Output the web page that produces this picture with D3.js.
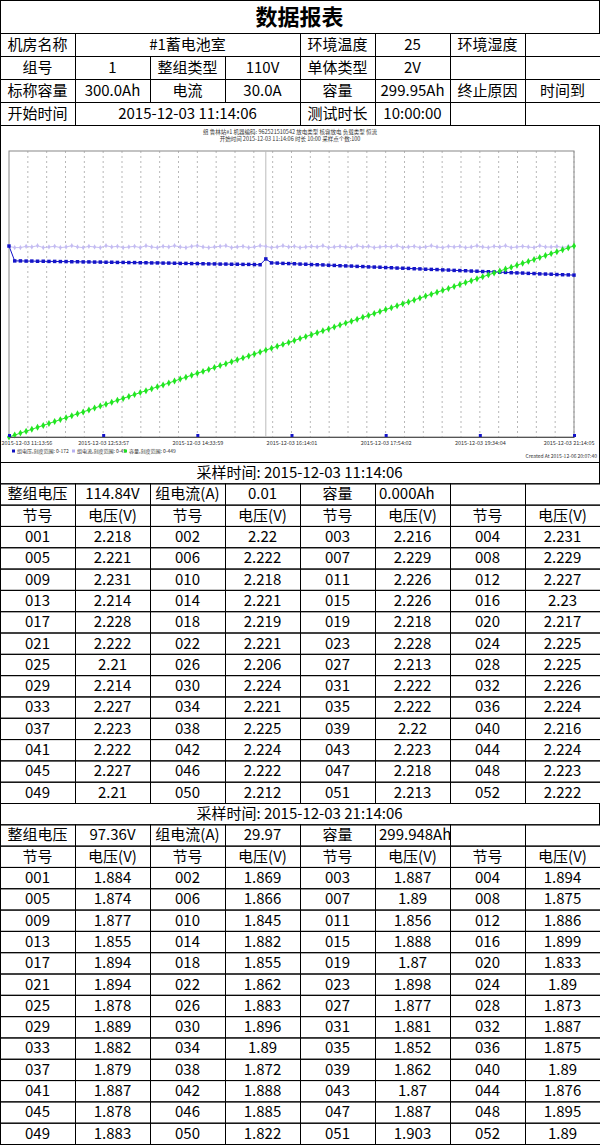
<!DOCTYPE html>
<meta charset="utf-8">
<script src="https://d3js.org/d3.v7.min.js"></script>
<style>
body{margin:0;background:#fff;}
text{font-family:"Noto Sans CJK SC","Noto Sans",sans-serif;}
</style>
<div id="vis"></div>
<script>
// header table
var infoRows = [
  [["机房名称",1],["#1蓄电池室",3],["环境温度",1],["25",1],["环境湿度",1],["",1]],
  [["组号",1],["1",1],["整组类型",1],["110V",1],["单体类型",1],["2V",1],["",1],["",1]],
  [["标称容量",1],["300.0Ah",1],["电流",1],["30.0A",1],["容量",1],["299.95Ah",1],["终止原因",1],["时间到",1]],
  [["开始时间",1],["2015-12-03 11:14:06",3],["测试时长",1],["10:00:00",1],["",1],["",1]]
];

// chart series (100 samples)
var voltage = [114.84,
  105.9,105.9,105.8,105.8,105.7,105.7,105.6,105.6,105.5,105.5,
  105.4,105.4,105.3,105.3,105.2,105.2,105.1,105.1,105.0,105.0,
  104.9,104.9,104.8,104.8,104.7,104.7,104.6,104.6,104.5,104.4,
  104.4,104.3,104.3,104.2,104.1,104.1,104.0,104.0,103.9,103.9,
  103.8,103.8,103.7,103.6,
  107.1,
  104.7,104.6,104.4,104.3,104.2,104.0,103.9,103.7,103.6,103.5,
  103.3,103.2,103.0,102.9,102.8,102.6,102.5,102.3,102.2,102.1,
  101.9,101.8,101.6,101.5,101.4,101.2,101.1,100.9,100.8,100.7,
  100.5,100.4,100.2,100.1,100.0,99.8,99.7,99.5,99.4,99.3,
  99.1,99.0,98.8,98.7,98.6,98.4,98.3,98.1,98.0,97.9,
  97.7,97.6,97.5,97.36];
var current = [30.0,29.8,29.8,30.0,29.9,30.1,29.8,29.9,30.0,29.8,
  29.9,30.1,29.9,29.8,30.0,29.9,29.8,30.1,29.9,30.0,
  29.8,29.9,30.0,29.8,30.1,29.9,29.8,30.0,29.9,30.1,
  29.9,29.8,30.0,30.1,29.9,29.8,29.9,30.0,30.1,29.8,
  29.9,30.0,29.8,29.9,30.1,30.0,29.8,29.9,30.1,29.9,
  30.0,29.8,29.9,30.0,29.9,30.1,29.8,29.9,30.0,29.9,
  29.8,30.1,29.9,30.0,29.8,29.9,30.0,29.9,30.1,29.8,
  29.9,30.0,29.8,29.9,30.1,29.9,29.8,30.0,29.9,30.0,
  29.8,29.9,30.1,29.9,29.8,30.0,29.9,30.1,29.8,29.9,
  30.0,29.9,29.8,30.1,29.9,29.9,30.0,29.8,30.0,30.0];
var capacity = [0,3.0,6.1,9.1,12.1,15.2,18.2,21.2,24.2,27.3,
  30.3,33.3,36.4,39.4,42.4,45.5,48.5,51.5,54.5,57.6,
  60.6,63.6,66.7,69.7,72.7,75.8,78.8,81.8,84.8,87.9,
  90.9,93.9,97.0,100.0,103.0,106.1,109.1,112.1,115.1,118.2,
  121.2,124.2,127.3,130.3,133.3,136.4,139.4,142.4,145.4,148.5,
  151.5,154.5,157.6,160.6,163.6,166.7,169.7,172.7,175.7,178.8,
  181.8,184.8,187.9,190.9,193.9,197.0,200.0,203.0,206.0,209.1,
  212.1,215.1,218.2,221.2,224.2,227.3,230.3,233.3,236.3,239.4,
  242.4,245.4,248.5,251.5,254.5,257.6,260.6,263.6,266.6,269.7,
  272.7,275.7,278.8,281.8,284.8,287.9,290.9,293.9,296.9,299.95];
var timeLabels = ["2015-12-03 11:13:56","2015-12-03 12:53:57","2015-12-03 14:33:59","2015-12-03 16:14:01","2015-12-03 17:54:02","2015-12-03 19:34:04","2015-12-03 21:14:05"];
var legendItems = [["组电压,刻度范围: 0-172","#1010c0"],["组电流,刻度范围: 0-45","#b8b0f0"],["容量,刻度范围: 0-449","#20e020"]];

// cell voltage samples
var sample1 = {time:"采样时间: 2015-12-03 11:14:06", sum:["整组电压","114.84V","组电流(A)","0.01","容量","0.000Ah","",""],
  v:["2.218","2.22","2.216","2.231","2.221","2.222","2.229","2.229","2.231","2.218","2.226","2.227","2.214","2.221","2.226","2.23",
     "2.228","2.219","2.218","2.217","2.222","2.221","2.228","2.225","2.21","2.206","2.213","2.225","2.214","2.224","2.222","2.226",
     "2.227","2.221","2.222","2.224","2.223","2.225","2.22","2.216","2.222","2.224","2.223","2.224","2.227","2.222","2.218","2.223",
     "2.21","2.212","2.213","2.222"]};
var sample2 = {time:"采样时间: 2015-12-03 21:14:06", sum:["整组电压","97.36V","组电流(A)","29.97","容量","299.948Ah","",""],
  v:["1.884","1.869","1.887","1.894","1.874","1.866","1.89","1.875","1.877","1.845","1.856","1.886","1.855","1.882","1.888","1.899",
     "1.894","1.855","1.87","1.833","1.894","1.862","1.898","1.89","1.878","1.883","1.877","1.873","1.889","1.896","1.881","1.887",
     "1.882","1.89","1.852","1.875","1.879","1.872","1.862","1.89","1.887","1.888","1.87","1.876","1.878","1.885","1.887","1.895",
     "1.883","1.822","1.903","1.89"]};
var headCols = ["节号","电压(V)"];

var W = 600, H = 1145, cw = 75;
var svg = d3.select("#vis").append("svg").attr("width", W).attr("height", H);

function cell(x, y, w, h, t, opts) {
  opts = opts || {};
  svg.append("rect").attr("x", x+0.5).attr("y", y+0.5).attr("width", w).attr("height", h)
    .attr("fill", "none").attr("stroke", "#000").attr("stroke-width", 1);
  if (t !== "") svg.append("text").attr("x", opts.left ? x+4 : x+w/2).attr("y", y+h/2 + (opts.shift || 0))
    .attr("dy", "0.36em").attr("text-anchor", opts.left ? "start" : "middle")
    .attr("font-size", opts.size || 15).attr("font-weight", opts.bold ? "bold" : null).text(t);
}

// title
cell(0, 0, W-1, 33, "数据报表", {size:22, bold:true, shift:1});
infoRows.forEach(function(row, r) {
  var x = 0;
  row.forEach(function(c) { cell(x, 33+r*23, c[1]*cw, 23, c[0]); x += c[1]*cw; });
});

// chart
var cy0 = 125, cy1 = 462;
svg.append("rect").attr("x", 0.5).attr("y", cy0+0.5).attr("width", W-1).attr("height", cy1-cy0).attr("fill", "#fff").attr("stroke", "#000");
svg.append("text").attr("x", 290).attr("y", 134).attr("text-anchor", "middle").attr("font-size", 5.5).attr("fill", "#333")
  .text("组 鲁林站#1 机器编码: 962521510542 放电类型 核容放电 负载类型 恒流");
svg.append("text").attr("x", 290).attr("y", 141).attr("text-anchor", "middle").attr("font-size", 5.5).attr("fill", "#333")
  .text("开始时间 2015-12-03 11:14:06 时长 10:00 采样点个数:100");

var px0 = 9, px1 = 574, py0 = 151, py1 = 437;
var x = d3.scaleLinear().domain([0, 99]).range([px0, px1]);
var yV = d3.scaleLinear().domain([0, 172]).range([py1, py0]);
var yI = d3.scaleLinear().domain([0, 45]).range([py1, py0]);
var yC = d3.scaleLinear().domain([0, 449]).range([py1, py0]);

svg.append("rect").attr("x", px0).attr("y", py0).attr("width", px1-px0).attr("height", py1-py0)
  .attr("fill", "none").attr("stroke", "#888");
var g = svg.append("g");
g.selectAll(".grid").data(d3.range(1, 31)).join("line")
  .attr("x1", function(i){ return x(i*99/30); }).attr("x2", function(i){ return x(i*99/30); })
  .attr("y1", py0).attr("y2", py1).attr("stroke", "#999").attr("stroke-dasharray", "2,3").attr("stroke-width", 0.7);
g.append("line").attr("x1", x(45)).attr("x2", x(45)).attr("y1", py0).attr("y2", py1).attr("stroke", "#bbb");

function series(data, ys, color, shape, size) {
  var line = d3.line().x(function(d, i){ return x(i); }).y(function(d){ return ys(d); });
  g.append("path").datum(data).attr("d", line).attr("fill", "none").attr("stroke", color).attr("stroke-width", 1);
  g.selectAll(null).data(data).join("path")
    .attr("transform", function(d, i){ return "translate(" + x(i) + "," + ys(d) + ")"; })
    .attr("d", d3.symbol().type(shape).size(size)).attr("fill", color);
}
series(current, yI, "#c4bcf2", d3.symbolDiamond, 8);
series(voltage, yV, "#1414c8", d3.symbolSquare, 12);
series(capacity, yC, "#22e622", d3.symbolDiamond, 14);

// x axis
var tickIdx = timeLabels.map(function(t, i){ return i*99/6; });
var ax = svg.append("g").attr("transform", "translate(0," + py1 + ")")
  .call(d3.axisBottom(x).tickValues(tickIdx).tickSize(0).tickFormat(function(d, i){ return timeLabels[i]; }));
ax.select(".domain").attr("stroke", "#555");
ax.selectAll("text").attr("font-size", 5.5).attr("fill", "#333").attr("dy", "0.9em")
  .attr("text-anchor", function(d, i){ return i === 0 ? "start" : (i === 6 ? "end" : "middle"); })
  .attr("dx", function(d, i){ return i === 0 ? -8 : (i === 6 ? 20 : 0); });
ax.selectAll(".tick").append("rect").attr("x", -1.5).attr("y", -3).attr("width", 3).attr("height", 3).attr("fill", "#1414c8");

var legendX = [12, 72, 124];
var lg = svg.append("g").attr("transform", "translate(0,451)");
legendItems.forEach(function(l, i) {
  lg.append("rect").attr("x", legendX[i]).attr("y", -1.5).attr("width", 3).attr("height", 3).attr("fill", l[1]);
  lg.append("text").attr("x", legendX[i]+5).attr("y", 0).attr("dy", "0.35em").attr("font-size", 5).attr("fill", "#333").text(l[0]);
});
svg.append("text").attr("x", 597).attr("y", 458).attr("text-anchor", "end").attr("font-size", 5).attr("fill", "#333")
  .text("Created At 2015-12-06 20:07:40");

// sample tables
function sampleTable(s, y0, rh) {
  cell(0, y0, W-1, rh, s.time);
  s.sum.forEach(function(t, i){ cell(i*cw, y0+rh, cw, rh, t, {left: i===5}); });
  d3.range(8).forEach(function(i){ cell(i*cw, y0+2*rh, cw, rh, headCols[i%2]); });
  d3.range(13).forEach(function(r) {
    d3.range(4).forEach(function(k) {
      var n = r*4 + k;
      cell(k*2*cw, y0+(3+r)*rh, cw, rh, d3.format("03d")(n+1));
      cell((k*2+1)*cw, y0+(3+r)*rh, cw, rh, s.v[n]);
    });
  });
}
sampleTable(sample1, 462, 341/16);
sampleTable(sample2, 803, 341/16);
</script>
